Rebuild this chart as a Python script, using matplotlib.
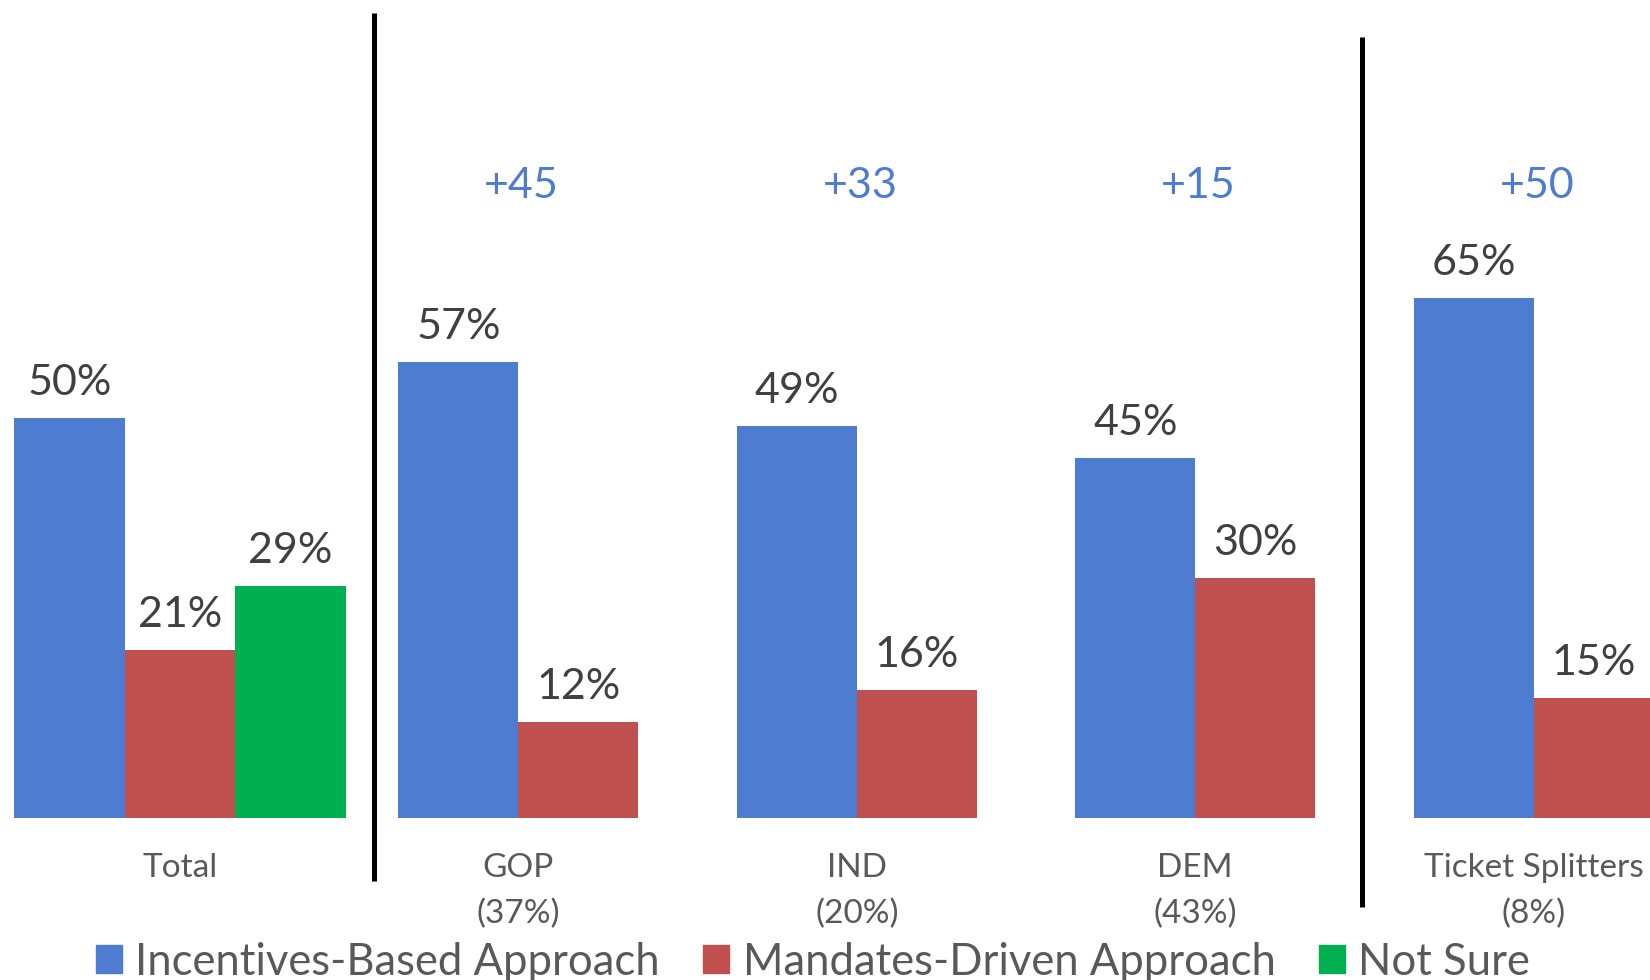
import matplotlib
matplotlib.use('Agg')
import numpy as np
from matplotlib import pyplot as plt
from matplotlib.patches import Patch

# data
groups = ['Total', 'GOP\n(37%)', 'IND\n(20%)', 'DEM\n(43%)', 'Ticket Splitters\n(8%)']
incentives = [50, 57, 49, 45, 65]
mandates = [21, 12, 16, 30, 15]
not_sure_total = 29

series_names = ['Incentives-Based Approach', 'Mandates-Driven Approach', 'Not Sure']
blue = '#4D7CD1'
red = '#C0504D'
green = '#00B050'
text_col = '#404040'
cat_col = '#595959'

plt.rcParams['font.family'] = ['Lato', 'DejaVu Sans']

fig = plt.figure(figsize=(16.5, 9.8), dpi=100)
ax = fig.add_axes([0, 0, 1, 1])
ax.set_xlim(-0.532, 4.344)
ax.set_ylim(-20.25, 102.25)
ax.axis('off')

x = np.arange(len(groups))
lbl_size = 31

def label(xpos, val):
    ax.text(xpos, val + 2.9, f'{val}%', ha='center', va='baseline',
            fontsize=lbl_size, color=text_col)

# Total group: three bars
w3 = 0.3265
ax.bar(x[0] - w3, incentives[0], w3, color=blue)
ax.bar(x[0], mandates[0], w3, color=red)
ax.bar(x[0] + w3, not_sure_total, w3, color=green)
label(x[0] - w3, incentives[0])
label(x[0], mandates[0])
label(x[0] + w3, not_sure_total)

# party groups: two bars each
w2 = 0.3545
for i in range(1, len(groups)):
    ax.bar(x[i] - w2 / 2, incentives[i], w2, color=blue)
    ax.bar(x[i] + w2 / 2, mandates[i], w2, color=red)
    label(x[i] - w2 / 2, incentives[i])
    label(x[i] + w2 / 2, mandates[i])
    diff = incentives[i] - mandates[i]
    ax.text(x[i] + 0.01, 77.5, f'+{diff}', ha='center', va='baseline',
            fontsize=lbl_size, color=blue)

# category labels under the bars
for i, g in enumerate(groups):
    ax.text(x[i], -4.4, g, ha='center', va='top', fontsize=24,
            color=cat_col, linespacing=1.62)

# black separators
ax.plot([0.573, 0.573], [-7.9, 100.6], color='black', lw=3.6, solid_capstyle='butt')
ax.plot([3.493, 3.493], [-11.1, 97.6], color='black', lw=3.6, solid_capstyle='butt')

handles = [Patch(color=c) for c in (blue, red, green)]
fig.legend(handles, series_names, loc='center', bbox_to_anchor=(813 / 1650, 1 - 962 / 980),
           ncol=3, frameon=False, fontsize=31.4, labelcolor=cat_col,
           handlelength=0.6, handleheight=0.6, handletextpad=0.3,
           columnspacing=1.0, borderpad=0)

fig.savefig('out.png', dpi=100)
